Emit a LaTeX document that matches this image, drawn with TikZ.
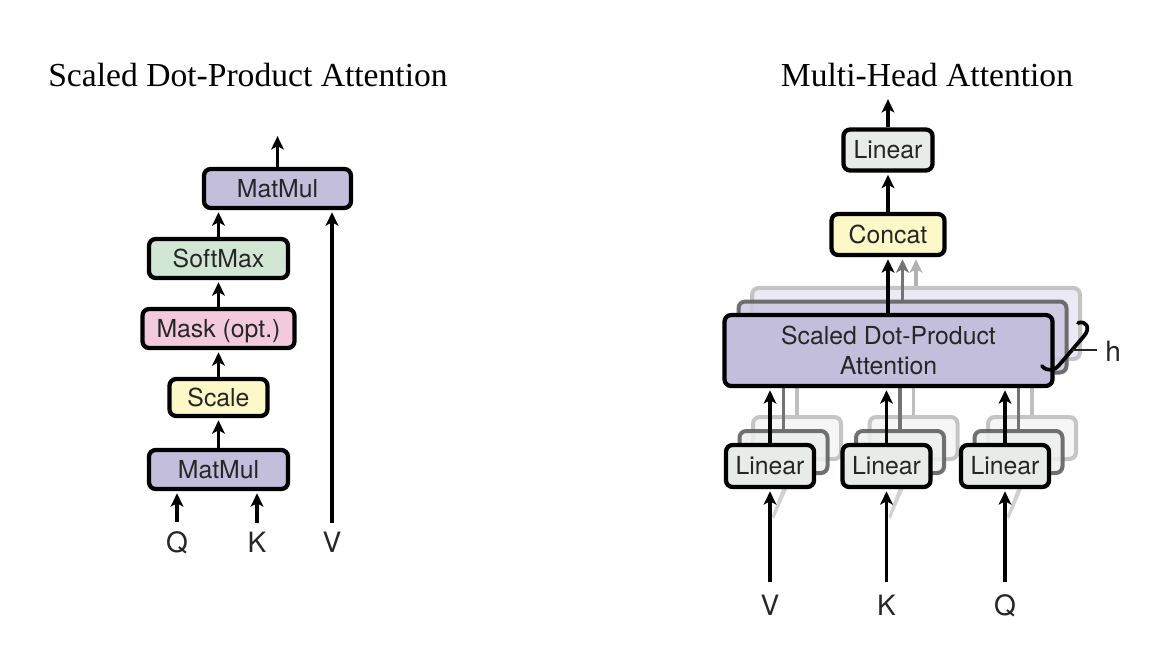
\documentclass[tikz,border=0pt]{standalone}
\usepackage{fontspec}
\setmainfont{Liberation Serif}
\newfontfamily\hv{TeX Gyre Heros}
\usetikzlibrary{arrows.meta}
\definecolor{lav}{HTML}{C4BEDD}
\definecolor{lavB}{HTML}{CDC8E2}
\definecolor{lavC}{HTML}{E9E7F2}
\definecolor{mint}{HTML}{D2E7D3}
\definecolor{pinkm}{HTML}{F2C9DD}
\definecolor{yel}{HTML}{FCF8C7}
\definecolor{lin}{HTML}{E7ECE9}
\definecolor{linB}{HTML}{EDF0EE}
\definecolor{linC}{HTML}{F5F6F5}
\definecolor{txt}{HTML}{262626}
\begin{document}
\begin{tikzpicture}[x=0.75pt,y=-0.75pt,
  boxbase/.style={draw=black, line width=3.2pt, rounded corners=5pt, inner sep=0pt,
    font=\hv\fontsize{18.6}{22.5}\selectfont, text=txt, align=center},
  box/.style={boxbase, text height=13.4pt, text depth=0pt},
  dims/.style 2 args={minimum width=#1*0.75pt, minimum height=#2*0.75pt},
  ghostB/.style={draw=black!65, line width=3pt, rounded corners=5pt, inner sep=0pt, opacity=.85},
  ghostC/.style={draw=black!25, line width=3pt, rounded corners=5pt, inner sep=0pt, opacity=.9},
  arr/.style={line width=2.9pt, -{Stealth[length=10pt,width=9.5pt,inset=2.5pt]}, shorten >=1.6pt},
  lab/.style={font=\hv\fontsize{21}{21}\selectfont, text=txt, inner sep=0pt, anchor=base},
  title/.style={font=\fontsize{25.2}{30}\selectfont, inner sep=0pt, anchor=base},
]
\useasboundingbox[fill=white] (0,0) rectangle (1176,648);

% ---------- titles ----------
\node[title] (t1) at (248,87) {Scaled Dot-Product Attention};
\node[title] (t2) at (927,87) {Multi-Head Attention};

% ---------- left: scaled dot-product attention ----------
\node[box, fill=lav, dims={147}{39}] (mm2) at (277.5,188.5) {MatMul};
\node[box, fill=mint, dims={139}{39}] (soft) at (218.5,258.5) {SoftMax};
\node[box, fill=pinkm, dims={152}{39}] (mask) at (218.5,328.5) {Mask (opt.)};
\node[box, fill=yel, dims={98}{37}] (scale) at (218.5,397.5) {Scale};
\node[box, fill=lav, dims={139}{39}] (mm1) at (218.5,469.5) {MatMul};

\node[lab] (ql) at (177,552) {Q};
\node[lab] (kl) at (257,552) {K};
\node[lab] (vl) at (332,552) {V};
\coordinate (outL) at (277.5,134);

\draw[arr] (mm2.north) -- (outL);
\draw[arr] (soft.north) -- (soft.north |- mm2.south);
\draw[arr] (mask) -- (soft);
\draw[arr] (scale) -- (mask);
\draw[arr] (mm1) -- (scale);
\draw[arr, shorten <=6.5pt] (ql.north) -- (ql.north |- mm1.south);
\draw[arr, shorten <=6.5pt] (kl.north) -- (kl.north |- mm1.south);
\draw[arr, shorten <=6.5pt] (vl.north) -- (vl.north |- mm2.south);

% ---------- right: multi-head attention ----------
% stacked SDPA copies
\node[ghostC, fill=lavC, dims={328}{71}] (sdC) at (916,323.5) {};
\node[ghostB, fill=lavB, dims={328}{71}] (sdB) at (902.5,337) {};
\node[box, fill=yel, dims={113}{41}] (concat) at (888,234.5) {Concat};
\node[box, fill=lin, dims={89}{41}] (lintop) at (888,150) {Linear};
\coordinate (outR) at (888,97);

\draw[arr, draw=black!30] (sdC.north) -- (sdC.north |- concat.south);
\draw[arr, draw=black!55] (sdB.north) -- (sdB.north |- concat.south);

% linear stacks
\foreach \n/\cx in {V/770, K/886.5, Q/1005} {
  \node[ghostC, fill=linC, dims={88}{42}] (lC\n) at (\cx+27,438) {};
  \node[ghostB, fill=linB, dims={88}{42}] (lB\n) at (\cx+13.5,452) {};
  \draw[line width=2.6pt, draw=black!25] (lC\n.north) -- ++(0,-40);
  \draw[line width=2.6pt, draw=black!55] (lB\n.north) -- ++(0,-50);
  \fill[black!40, opacity=.45] (\cx+2,516) -- (\cx+12,489) -- (\cx+17,489) -- (\cx+4,519) -- cycle;
}

\node[boxbase, fill=lav, dims={328}{71}] (sdpa) at (888.5,350.5) {Scaled Dot-Product\\Attention};

\foreach \n/\cx in {V/770, K/886.5, Q/1005} {
  \node[box, fill=lin, dims={88}{42}] (l\n) at (\cx,466) {Linear};
}

\node[lab] (vr) at (770,615) {V};
\node[lab] (kr) at (886.5,615) {K};
\node[lab] (qr) at (1005,615) {Q};

\draw[arr] (sdpa.north -| concat.south) -- (concat.south);
\draw[arr] (concat) -- (lintop);
\draw[arr] (lintop.north) -- (outR);
\foreach \n/\m in {V/vr, K/kr, Q/qr} {
  \draw[arr] (l\n.north) -- (l\n.north |- sdpa.south);
  \draw[arr, shorten <=9pt] (\m.north) -- (\m.north |- l\n.south);
}

% brace for h
\coordinate (bA) at (1078,323);
\coordinate (bM) at (1072,350);
\coordinate (bZ) at (1042,366);
\coordinate (bT) at (1097,350);
\draw[line width=2.8pt, line cap=round] (bA) .. controls (1086,320) and (1091,328) .. (1084,336)
  -- (1060,364) .. controls (1055,371) and (1047,372) .. (bZ);
\node[lab, anchor=west] (hl) at (1105,351) {h};
\draw[line width=1.8pt, draw=txt] (bM) -- (bT);
\end{tikzpicture}
\end{document}
